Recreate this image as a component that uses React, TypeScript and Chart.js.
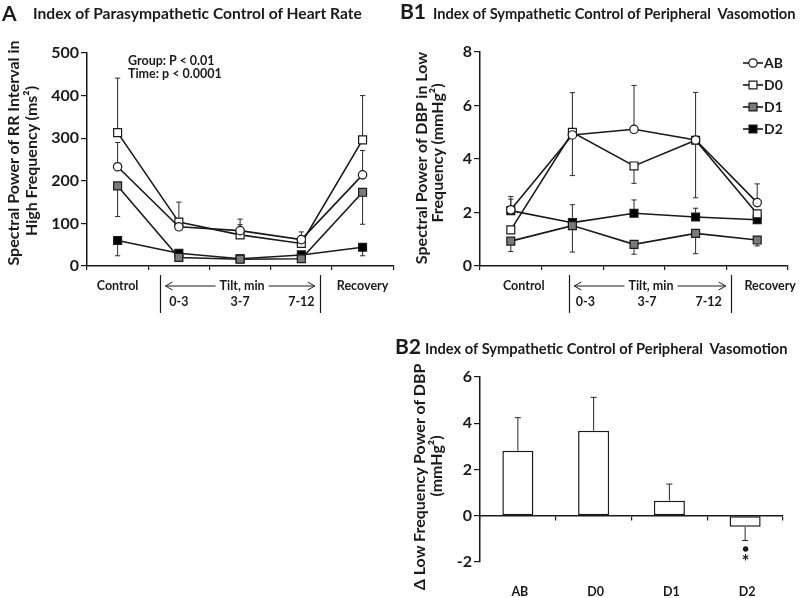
import React, { useEffect, useRef } from "react";
import { Chart, registerables } from "chart.js";

Chart.register(...registerables);

const FONT = "Lato, 'Open Sans', 'DejaVu Sans', sans-serif";
const INK = "#1a1a1a";

// ---------- shared categories ----------
const timeCategories = ["Control", "0-3", "3-7", "7-12", "Recovery"];
const tiltIntervalFlags = [false, true, true, true, false];
const groupNames = ["AB", "D0", "D1", "D2"];

// ---------- Panel A: HF power of RR interval (ms²) ----------
const hfAB = [233, 92, 83, 62, 214];
const hfD0 = [313, 103, 73, 53, 296];
const hfD1 = [188, 20, 16, 17, 173];
const hfD2 = [60, 30, 17, 26, 44];
const hfErrAB = [290, null, 110, 80, 271];
const hfErrD0 = [441, 150, 97, null, 400];
const hfErrD1 = [116, null, null, null, 98];
const hfErrD2 = [24, null, null, null, 24];
const hfTickStep = 100;
const hfMax = 500;

// ---------- Panel B1: LF power of DBP (mmHg²) ----------
const lfAB = [2.1, 4.9, 5.11, 4.71, 2.37];
const lfD0 = [1.35, 5.0, 3.74, 4.7, 1.95];
const lfD1 = [0.93, 1.51, 0.81, 1.22, 0.97];
const lfD2 = [2.07, 1.62, 1.97, 1.83, 1.73];
const lfErrAB = [2.6, 3.38, 6.75, 2.55, 3.07];
const lfErrD0 = [null, 6.48, 3.09, 6.49, null];
const lfErrD1 = [0.54, 0.52, 0.44, 0.46, 0.75];
const lfErrD2 = [2.5, 2.29, 2.47, 2.16, null];
const lfTickStep = 2;
const lfMax = 8;

// ---------- Panel B2: Δ LF power of DBP (mmHg²) ----------
const deltaLF = [2.81, 3.68, 0.65, -0.48];
const deltaLFErr = [4.24, 5.12, 1.37, -1.07];
const deltaSig = ["", "", "", "*"];
const deltaMin = -2;
const deltaMax = 6;
const deltaStep = 2;

// ---------- styles ----------
const seriesStyle = [
  { pointStyle: "circle", radius: 4.2, fill: "#ffffff" },
  { pointStyle: "rect", radius: 5.6, fill: "#ffffff" },
  { pointStyle: "rect", radius: 5.6, fill: "#7a7a7a" },
  { pointStyle: "rect", radius: 5.6, fill: "#000000" },
];

function drawMarker(ctx: CanvasRenderingContext2D, st: any, x: number, y: number) {
  ctx.beginPath();
  if (st.pointStyle === "circle") ctx.arc(x, y, st.radius, 0, Math.PI * 2);
  else {
    const s = st.radius * Math.SQRT1_2;
    ctx.rect(x - s, y - s, 2 * s, 2 * s);
  }
  ctx.fillStyle = st.fill;
  ctx.fill();
  ctx.strokeStyle = INK;
  ctx.lineWidth = 1.2;
  ctx.stroke();
}

const errorBarPlugin = {
  id: "errorBars",
  beforeDatasetsDraw(chart: any) {
    const ctx = chart.ctx;
    const ys = chart.scales.y;
    chart.data.datasets.forEach((ds: any, di: number) => {
      const ends = ds.errEnds;
      if (!ends) return;
      const meta = chart.getDatasetMeta(di);
      const cap = ds.capHalf || 2.6;
      meta.data.forEach((el: any, i: number) => {
        const e = ends[i];
        if (e == null) return;
        const x = el.x;
        const y0 = ys.getPixelForValue(ds.data[i]);
        const y1 = ys.getPixelForValue(e);
        ctx.save();
        ctx.strokeStyle = "#2a2a2a";
        ctx.lineWidth = 1;
        ctx.beginPath();
        ctx.moveTo(x, y0);
        ctx.lineTo(x, y1);
        ctx.moveTo(x - cap, y1);
        ctx.lineTo(x + cap, y1);
        ctx.stroke();
        ctx.restore();
      });
    });
  },
};

function arrow(ctx: CanvasRenderingContext2D, x0: number, x1: number, y: number) {
  const dir = Math.sign(x1 - x0);
  ctx.beginPath();
  ctx.moveTo(x0, y);
  ctx.lineTo(x1, y);
  ctx.moveTo(x1 - dir * 7, y - 4);
  ctx.lineTo(x1, y);
  ctx.lineTo(x1 - dir * 7, y + 4);
  ctx.stroke();
}

function tiltPlugin(sepLeft: number, sepRight: number, textShift: number) {
  return {
    id: "tiltRow",
    afterDraw(chart: any) {
      const { ctx, chartArea } = chart;
      const xs = chart.scales.x;
      const xl = xs.getPixelForValue(sepLeft);
      const xr = xs.getPixelForValue(sepRight);
      const yRow = chartArea.bottom + 20;
      ctx.save();
      ctx.strokeStyle = INK;
      ctx.lineWidth = 1.2;
      ctx.beginPath();
      ctx.moveTo(Math.round(xl) + 0.5, chartArea.bottom + 9);
      ctx.lineTo(Math.round(xl) + 0.5, chartArea.bottom + 47);
      ctx.moveTo(Math.round(xr) + 0.5, chartArea.bottom + 9);
      ctx.lineTo(Math.round(xr) + 0.5, chartArea.bottom + 47);
      ctx.stroke();
      const tx = xs.getPixelForValue(2) + textShift;
      ctx.font = `bold 12.5px ${FONT}`;
      ctx.fillStyle = INK;
      ctx.textAlign = "center";
      ctx.textBaseline = "middle";
      const label = "Tilt, min";
      ctx.fillText(label, tx, yRow);
      const w = ctx.measureText(label).width;
      ctx.lineWidth = 1;
      arrow(ctx, tx - w / 2 - 4, xl + 5, yRow);
      arrow(ctx, tx + w / 2 + 4, xr - 5, yRow);
      ctx.restore();
    },
  };
}

const legendPlugin = {
  id: "groupLegend",
  afterDraw(chart: any) {
    const ctx = chart.ctx;
    const x0 = chart.chartArea.right - 45;
    ctx.save();
    ctx.font = `bold 14px ${FONT}`;
    ctx.textAlign = "left";
    ctx.textBaseline = "middle";
    chart.data.datasets.forEach((ds: any, i: number) => {
      const y = 63 + i * 22;
      ctx.strokeStyle = INK;
      ctx.lineWidth = 1.6;
      ctx.beginPath();
      ctx.moveTo(x0, y);
      ctx.lineTo(x0 + 20, y);
      ctx.stroke();
      drawMarker(ctx, seriesStyle[i], x0 + 10, y);
      ctx.fillStyle = INK;
      ctx.fillText(ds.label, x0 + 21, y + 0.5);
    });
    ctx.restore();
  },
};

const sigPlugin = {
  id: "sigMarks",
  afterDraw(chart: any) {
    const ctx = chart.ctx;
    const ys = chart.scales.y;
    const meta = chart.getDatasetMeta(0);
    ctx.save();
    ctx.fillStyle = INK;
    deltaSig.forEach((m, i) => {
      if (!m) return;
      const x = meta.data[i].x;
      const yEnd = ys.getPixelForValue(deltaLFErr[i]);
      ctx.beginPath();
      ctx.arc(x + 0.5, yEnd + 8.5, 2.7, 0, Math.PI * 2);
      ctx.fill();
      ctx.font = `bold 19px ${FONT}`;
      ctx.textAlign = "center";
      ctx.textBaseline = "middle";
      ctx.fillText(m, x + 0.5, yEnd + 21);
    });
    ctx.restore();
  },
};

function lineDatasets(values: number[][], errs: (number | null)[][]) {
  return values.map((v, i) => ({
    label: groupNames[i],
    data: v,
    errEnds: errs[i],
    borderColor: INK,
    borderWidth: 1.6,
    pointStyle: seriesStyle[i].pointStyle,
    pointRadius: seriesStyle[i].radius,
    pointBackgroundColor: seriesStyle[i].fill,
    pointBorderColor: INK,
    pointBorderWidth: 1.2,
    tension: 0,
    fill: false,
  }));
}

const tickFont = { family: FONT, size: 16, weight: "bold" as const };
const catFont = { family: FONT, size: 12.5, weight: "bold" as const, lineHeight: 1.28 };

function timeLabels() {
  return timeCategories.map((c, i) => (tiltIntervalFlags[i] ? ["", c] : c));
}

function lineOptions(yMax: number, yStep: number, yWidth: number, padTop: number, padRight: number, labelOffset: number) {
  return {
    responsive: false,
    animation: false,
    layout: { padding: { left: 0, right: padRight, top: padTop, bottom: 0 } },
    plugins: { legend: { display: false }, tooltip: { enabled: false } },
    scales: {
      x: {
        type: "category",
        offset: true,
        grid: { display: true, drawOnChartArea: false, offset: true, tickLength: 4, color: INK, lineWidth: 1.2 },
        border: { display: true, color: INK, width: 1.5 },
        ticks: { font: catFont, color: INK, padding: 8, labelOffset, maxRotation: 0, autoSkip: false },
        afterFit: (s: any) => { s.height = 64; },
      },
      y: {
        min: 0,
        max: yMax,
        ticks: { stepSize: yStep, font: tickFont, color: INK, padding: 2 },
        grid: { display: true, drawOnChartArea: false, tickLength: 6, color: INK, lineWidth: 1.2 },
        border: { display: true, color: INK, width: 1.5 },
        afterFit: (s: any) => { s.width = yWidth; },
      },
    },
  };
}

function ChartCanvas({ left, top, width, height, make }: any) {
  const ref = useRef<HTMLCanvasElement | null>(null);
  useEffect(() => {
    if (!ref.current) return;
    const chart = new Chart(ref.current, make());
    return () => chart.destroy();
  }, []);
  return (
    <canvas
      ref={ref}
      width={width}
      height={height}
      style={{ position: "absolute", left, top, width, height }}
    />
  );
}

function makeA(): any {
  return {
    type: "line",
    data: {
      labels: timeLabels(),
      datasets: lineDatasets([hfAB, hfD0, hfD1, hfD2], [hfErrAB, hfErrD0, hfErrD1, hfErrD2]),
    },
    options: lineOptions(hfMax, hfTickStep, 87, 53, 5, 0),
    plugins: [errorBarPlugin, tiltPlugin(0.7, 3.3, 2)],
  };
}

function makeB1(): any {
  return {
    type: "line",
    data: {
      labels: timeLabels(),
      datasets: lineDatasets([lfAB, lfD0, lfD1, lfD2], [lfErrAB, lfErrD0, lfErrD1, lfErrD2]),
    },
    options: lineOptions(lfMax, lfTickStep, 80, 52, 17, 13),
    plugins: [errorBarPlugin, tiltPlugin(0.95, 3.57, 17), legendPlugin],
  };
}

function makeB2(): any {
  return {
    type: "bar",
    data: {
      labels: groupNames,
      datasets: [
        {
          label: "Δ LF",
          data: deltaLF,
          errEnds: deltaLFErr,
          capHalf: 3,
          backgroundColor: "#ffffff",
          borderColor: INK,
          borderWidth: 1.5,
          borderSkipped: false,
          barPercentage: 0.41,
          categoryPercentage: 1,
        },
      ],
    },
    options: {
      responsive: false,
      animation: false,
      layout: { padding: { left: 0, right: 22, top: 47, bottom: 0 } },
      plugins: { legend: { display: false }, tooltip: { enabled: false } },
      scales: {
        x: {
          type: "category",
          offset: true,
          grid: { display: false },
          border: { display: false },
          ticks: { font: catFont, color: INK, padding: 14, labelOffset: 2, maxRotation: 0 },
          afterFit: (s: any) => { s.height = 36; },
        },
        x2: {
          axis: "x",
          type: "category",
          labels: groupNames,
          position: { y: 0 },
          offset: true,
          grid: { display: true, drawOnChartArea: false, offset: true, tickLength: 4, color: INK, lineWidth: 1.2 },
          border: { display: true, color: INK, width: 1.5 },
          ticks: { display: false },
        },
        y: {
          min: deltaMin,
          max: deltaMax,
          ticks: { stepSize: deltaStep, font: tickFont, color: INK, padding: 2 },
          grid: { display: true, drawOnChartArea: false, tickLength: 6, color: INK, lineWidth: 1.2 },
          border: { display: true, color: INK, width: 1.5 },
          afterFit: (s: any) => { s.width = 80; },
        },
      },
    },
    plugins: [errorBarPlugin, sigPlugin],
  };
}

function Text({ x, baseline, size, children }: any) {
  return (
    <div
      style={{
        position: "absolute",
        left: x,
        top: baseline - 0.887 * size,
        fontSize: size,
        lineHeight: 1,
        fontWeight: 700,
        whiteSpace: "nowrap",
      }}
    >
      {children}
    </div>
  );
}

function VText({ cx, cy, size, children }: any) {
  return (
    <div
      style={{
        position: "absolute",
        left: cx,
        top: cy,
        transform: "translate(-50%, -50%) rotate(-90deg)",
        fontSize: size,
        lineHeight: 1,
        fontWeight: 700,
        whiteSpace: "nowrap",
      }}
    >
      {children}
    </div>
  );
}

export default function App() {
  return (
    <div
      style={{
        position: "absolute",
        left: 0,
        top: 0,
        width: 805,
        height: 598,
        background: "#ffffff",
        fontFamily: FONT,
        color: INK,
        overflow: "hidden",
      }}
    >
      <ChartCanvas left={0} top={0} width={400} height={330} make={makeA} />
      <ChartCanvas left={400} top={0} width={405} height={330} make={makeB1} />
      <ChartCanvas left={400} top={330} width={405} height={268} make={makeB2} />

      <Text x={2} baseline={20.5} size={21}>A</Text>
      <Text x={33} baseline={19.5} size={15.6}>Index of Parasympathetic Control of Heart Rate</Text>
      <Text x={128} baseline={66} size={12.5}>Group: P &lt; 0.01</Text>
      <Text x={128} baseline={78.6} size={12.5}>Time: p &lt; 0.0001</Text>

      <Text x={400} baseline={18.5} size={21}>B1</Text>
      <Text x={433} baseline={19.5} size={14.7}>Index of Sympathetic Control of Peripheral&nbsp; Vasomotion</Text>

      <Text x={395} baseline={353.5} size={21}>B2</Text>
      <Text x={425} baseline={354} size={14.7}>Index of Sympathetic Control of Peripheral&nbsp; Vasomotion</Text>

      <VText cx={13} cy={153} size={16}>Spectral Power of RR Interval in</VText>
      <VText cx={31} cy={161} size={16}>High Frequency (ms²)</VText>

      <VText cx={421} cy={158} size={16}>Spectral Power of DBP in Low</VText>
      <VText cx={437} cy={153} size={16}>Frequency (mmHg²)</VText>

      <VText cx={419} cy={477} size={16}>Δ Low Frequency Power of DBP</VText>
      <VText cx={436} cy={466} size={16}>(mmHg²)</VText>
    </div>
  );
}
